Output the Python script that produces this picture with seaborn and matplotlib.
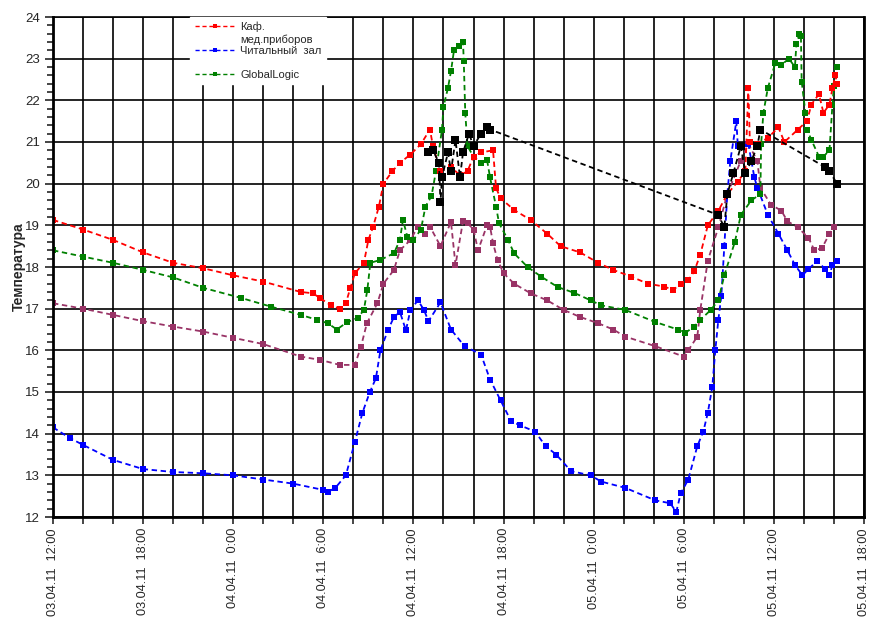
import numpy as np
import pandas as pd
import matplotlib
matplotlib.use("Agg")
import matplotlib.pyplot as plt
import matplotlib.dates as mdates
from matplotlib.lines import Line2D
from matplotlib.ticker import MultipleLocator, FuncFormatter
import seaborn as sns

# часы от 03.04.11 12:00 и температура
red_h = [0.0, 2.0, 4.0, 6.0, 8.0, 10.0, 12.0, 14.0, 16.5, 17.3, 17.8, 18.5, 19.1, 19.5,
         19.8, 20.1, 20.7, 21.0, 21.3, 21.7, 22.0, 22.6, 23.1, 23.8, 24.5, 25.1, 25.3,
         25.8, 26.5, 27.1, 27.6, 28.0, 28.5, 29.3, 29.5, 29.8, 30.7, 31.8, 32.9, 33.8,
         35.1, 36.3, 37.3, 38.5, 39.6, 40.7, 41.3, 41.8, 42.3, 42.7, 43.1, 43.6, 44.3,
         44.9, 45.6, 46.1, 46.3, 46.4, 46.9, 47.6, 48.3, 48.7, 49.6, 50.2, 50.5, 51.0,
         51.3, 51.7, 51.9, 52.1, 52.2]
red_t = [19.13, 18.9, 18.65, 18.35, 18.1, 17.97, 17.8, 17.65, 17.4, 17.37, 17.25, 17.08, 17.0, 17.13,
         17.5, 17.85, 18.1, 18.65, 18.95, 19.45, 20.0, 20.3, 20.5, 20.7, 20.95, 21.3, 20.9,
         20.3, 20.4, 20.2, 20.3, 20.65, 20.75, 20.8, 19.9, 19.65, 19.37, 19.13, 18.8, 18.5,
         18.35, 18.1, 17.93, 17.77, 17.6, 17.53, 17.45, 17.6, 17.68, 17.9, 18.3, 19.0, 19.35,
         19.75, 20.05, 20.3, 22.3, 21.0, 20.95, 21.1, 21.35, 21.0, 21.3, 21.5, 21.9, 22.15,
         21.7, 21.9, 22.3, 22.6, 22.4]

blue_h = [0.0, 1.1, 2.0, 4.0, 6.0, 8.0, 10.0, 12.0, 14.0, 16.0, 18.0, 18.3, 18.8, 19.5,
          20.1, 20.6, 21.1, 21.5, 21.8, 22.3, 22.7, 23.1, 23.5, 23.8, 24.3, 24.7, 25.0,
          25.8, 26.5, 27.4, 28.5, 29.1, 29.8, 30.5, 31.1, 32.1, 32.8, 33.5, 34.5, 35.8,
          36.5, 38.1, 40.1, 41.1, 41.5, 41.8, 42.3, 42.9, 43.3, 43.6, 43.9, 44.1, 44.3,
          44.5, 44.7, 44.9, 45.1, 45.5, 45.6, 45.9, 46.3, 46.7, 46.9, 47.6, 48.3, 48.9,
          49.4, 49.9, 50.3, 50.9, 51.4, 51.7, 51.9, 52.2]
blue_t = [14.15, 13.9, 13.73, 13.37, 13.15, 13.08, 13.05, 13.0, 12.9, 12.8, 12.65, 12.6, 12.7, 13.0,
          13.8, 14.5, 15.0, 15.33, 16.0, 16.48, 16.8, 16.92, 16.48, 16.97, 17.2, 16.97, 16.7,
          17.15, 16.5, 16.1, 15.9, 15.3, 14.8, 14.3, 14.2, 14.05, 13.7, 13.5, 13.1, 13.0,
          12.85, 12.7, 12.4, 12.33, 12.12, 12.57, 12.9, 13.7, 14.05, 14.5, 15.13, 16.0, 16.73,
          17.3, 18.5, 19.75, 20.55, 21.5, 20.9, 20.9, 20.95, 20.15, 19.9, 19.25, 18.8, 18.4,
          18.05, 17.8, 17.95, 18.15, 17.95, 17.8, 18.05, 18.15]

green_h = [0.0, 2.0, 4.0, 6.0, 8.0, 10.0, 12.5, 14.5, 16.5, 17.6, 18.3, 18.9, 19.6, 20.3,
           20.7, 20.93, 21.13, 21.8, 22.7, 23.1, 23.3, 23.6, 24.0, 24.5, 24.8, 25.2, 25.5,
           25.9, 26.0, 26.3, 26.5, 26.7, 27.0, 27.3, 27.35, 27.45, 27.6, 28.0, 28.5, 28.9,
           29.1, 29.5, 29.7, 30.3, 30.7, 31.6, 32.5, 33.6, 34.7, 35.8, 36.5, 38.1, 40.1,
           41.6, 42.1, 42.7, 43.1, 43.8, 44.3, 44.7, 45.4, 45.8, 46.5, 47.1, 47.15, 47.3,
           47.6, 48.1, 48.5, 49.0, 49.4, 49.5, 49.7, 49.8, 49.85, 50.1, 50.2, 50.5, 51.0,
           51.3, 51.7, 51.9, 52.0, 52.2]
green_t = [18.4, 18.25, 18.1, 17.93, 17.75, 17.5, 17.26, 17.05, 16.85, 16.73, 16.65, 16.5, 16.68, 16.78,
           16.97, 17.45, 18.1, 18.17, 18.33, 18.65, 19.13, 18.72, 18.65, 18.9, 19.45, 19.7, 20.3,
           21.3, 21.85, 22.3, 22.7, 23.2, 23.3, 23.4, 22.95, 21.7, 20.9, 20.65, 20.5, 20.57,
           20.15, 19.45, 19.05, 18.65, 18.33, 18.0, 17.77, 17.52, 17.38, 17.2, 17.08, 16.97, 16.68,
           16.5, 16.42, 16.57, 16.73, 16.97, 17.2, 17.8, 18.6, 19.25, 19.6, 19.75, 20.95, 21.7,
           22.3, 22.9, 22.85, 23.0, 22.8, 23.35, 23.6, 23.55, 22.45, 21.7, 21.3, 21.05, 20.65,
           20.65, 20.8, 21.9, 22.35, 22.8]

purple_h = [0.0, 2.0, 4.0, 6.0, 8.0, 10.0, 12.0, 14.0, 16.5, 17.8, 19.1, 20.1, 20.5, 20.9,
            21.6, 22.0, 22.7, 23.1, 23.8, 24.3, 24.8, 25.1, 25.8, 26.5, 26.8, 27.3, 27.6,
            28.0, 28.3, 28.9, 29.1, 29.3, 29.6, 30.0, 30.7, 31.8, 32.9, 34.0, 35.1, 36.3,
            37.3, 38.1, 40.1, 42.0, 42.3, 42.9, 43.1, 43.6, 44.3, 44.9, 45.8, 46.3, 46.9,
            47.1, 47.8, 48.5, 48.9, 49.6, 50.3, 50.7, 51.2, 51.7, 52.0]
purple_t = [17.13, 17.0, 16.85, 16.7, 16.57, 16.45, 16.3, 16.15, 15.85, 15.77, 15.65, 15.65, 16.08, 16.65,
            17.13, 17.6, 17.93, 18.4, 18.65, 18.97, 18.8, 18.97, 18.5, 19.08, 18.05, 19.1, 19.05,
            18.9, 18.4, 19.0, 18.97, 18.57, 18.17, 17.85, 17.6, 17.37, 17.2, 16.97, 16.8, 16.65,
            16.5, 16.33, 16.1, 15.85, 16.0, 16.33, 16.97, 18.15, 18.95, 19.75, 20.55, 20.95, 20.55,
            19.9, 19.5, 19.35, 19.1, 18.95, 18.7, 18.4, 18.45, 18.8, 18.95]

black_h = [25.0, 25.3, 25.7, 25.8, 25.9, 26.3, 26.5, 26.8, 27.1, 27.3, 27.7, 28.0, 28.5, 28.9,
           29.1, 44.3, 44.7, 44.9, 45.3, 45.8, 46.1, 46.5, 46.9, 47.1, 51.4, 51.7, 52.2]
black_t = [20.75, 20.8, 20.5, 19.55, 20.15, 20.75, 20.3, 21.05, 20.15, 20.75, 21.2, 20.9, 21.2, 21.35,
           21.3, 19.25, 18.95, 19.75, 20.25, 20.9, 20.25, 20.55, 20.9, 21.3, 20.4, 20.3, 20.0]

labels = ["Каф.", "Читальный  зал", "GlobalLogic"]

start = pd.Timestamp("2011-04-03 12:00")
end = pd.Timestamp("2011-04-05 18:00")

sns.set_style("white")
plt.rcParams["font.family"] = ["Liberation Sans", "DejaVu Sans"]

fig = plt.figure(figsize=(8.72, 6.19), dpi=100)
ax = fig.add_axes([53 / 872, 1 - 517 / 619, 811 / 872, 500 / 619])

dash = (0, (3, 2))
series = [
    (purple_h, purple_t, "#993366", 4.5),
    (blue_h, blue_t, "#0000FF", 4.5),
    (green_h, green_t, "#008000", 4.5),
    (red_h, red_t, "#FF0000", 4.5),
    (black_h, black_t, "#000000", 5.5),
]
for hours, temps, color, ms in series:
    df = pd.DataFrame({"time": start + pd.to_timedelta(hours, unit="h"), "temp": temps})
    sns.lineplot(data=df, x="time", y="temp", ax=ax, color=color, sort=False,
                 estimator=None, linestyle=dash, linewidth=1.3,
                 marker="s", markersize=ms, markeredgewidth=0)

ax.set_xlim(start, end)
ax.set_ylim(12, 24)

ax.xaxis.set_major_locator(mdates.HourLocator(byhour=[0, 6, 12, 18]))
ax.xaxis.set_minor_locator(mdates.HourLocator(byhour=range(0, 24, 2)))


def fmt_date(x, pos):
    d = mdates.num2date(x)
    return f"{d:%d.%m.%y}  {d.hour}:{d:%M}"


ax.xaxis.set_major_formatter(FuncFormatter(fmt_date))
ax.yaxis.set_major_locator(MultipleLocator(1))
ax.yaxis.set_minor_locator(MultipleLocator(0.2))

ax.grid(True, which="major", color="black", linewidth=1.2)
ax.grid(True, which="minor", axis="x", color="black", linewidth=1.2)
ax.set_axisbelow(True)

ax.tick_params(axis="x", which="both", direction="out", length=5, width=1.2,
               labelsize=9.2, rotation=90, pad=3, bottom=True)
ax.tick_params(axis="y", which="major", direction="out", length=6, width=1.2,
               labelsize=9.5, left=True)
ax.tick_params(axis="y", which="minor", direction="out", length=4, width=1.2, left=True)

for side in ["left", "bottom", "right"]:
    ax.spines[side].set_linewidth(2)
    ax.spines[side].set_color("black")
ax.spines["top"].set_linewidth(1.2)
ax.spines["top"].set_color("black")

ax.set_xlabel("")
ax.set_ylabel("Температура", fontsize=10, fontweight="bold", labelpad=-1)

handles = [
    Line2D([], [], color=c, linestyle=dash, linewidth=1, marker="s", markersize=3.5, markeredgewidth=0)
    for c in ["#FF0000", "#0000FF", "#008000"]
]
leg = ax.legend(handles, labels, loc="upper left", bbox_to_anchor=(0.169, 1.0),
                fontsize=8, frameon=True, fancybox=False, framealpha=1,
                facecolor="white", edgecolor="white", handlelength=3.6,
                handletextpad=0.5, labelspacing=1.25, borderpad=0.4,
                borderaxespad=0, numpoints=1)
leg.set_zorder(5)
ax.text(240 / 872, 1 - 40 / 619, "мед.приборов", transform=fig.transFigure,
        fontsize=8, va="center", ha="left", zorder=6)

fig.savefig("out.png", dpi=100)
